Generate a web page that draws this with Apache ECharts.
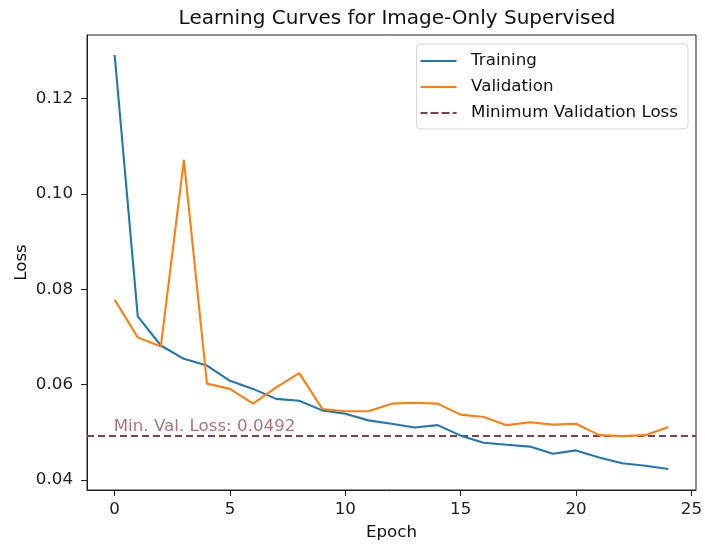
<!DOCTYPE html>
<html>
<head>
<meta charset="utf-8">
<script src="https://cdn.jsdelivr.net/npm/echarts@6/dist/echarts.min.js"></script>
<style>
  html, body { margin: 0; padding: 0; background: #fff; }
  #chart { width: 705px; height: 547px; }
</style>
</head>
<body>
<div id="chart"></div>
<script>
// Per-epoch losses
const epochs = Array.from({ length: 25 }, (_, i) => i);
const trainingLoss = [
  0.1291, 0.0743, 0.0682, 0.0654, 0.0640, 0.0608, 0.0591, 0.0570, 0.0566, 0.0546,
  0.0539, 0.0525, 0.0518, 0.0510, 0.0515, 0.0493, 0.0478, 0.0474, 0.0470, 0.0455,
  0.0462, 0.0447, 0.0435, 0.0430, 0.0423
];
const validationLoss = [
  0.0778, 0.0699, 0.0680, 0.1071, 0.0602, 0.0591, 0.0560, 0.0594, 0.0624, 0.0549,
  0.0544, 0.0544, 0.0560, 0.0562, 0.0560, 0.0537, 0.0532, 0.0515, 0.0521, 0.0516,
  0.0518, 0.0494, 0.0492, 0.0494, 0.0511
];
const xTicks = [0, 5, 10, 15, 20, 25];
const yTicks = [0.04, 0.06, 0.08, 0.10, 0.12];

const minVal = Math.min(...validationLoss);
const xMin = -1.2, xMax = 25.2;
const yMin = 0.0379, yMax = 0.1333;

const FONT = 'DejaVu Sans';
const FS = 16.7;
const MIN_COLOR = '#8e3a48';

// Legend glyphs: solid bar and dashed bar
const solidIcon = 'path://M0,0h36v2h-36z';
const dashedIcon = 'path://M0,0h7v2h-7z M10,0h8v2h-8z M21,0h8v2h-8z M32,0h4v2h-4z';

const chart = echarts.init(document.getElementById('chart'), null, { renderer: 'canvas' });

chart.setOption({
  animation: false,
  backgroundColor: '#ffffff',
  textStyle: { fontFamily: FONT },
  title: {
    text: 'Learning Curves for Image-Only Supervised',
    left: 392, top: 4, textAlign: 'center',
    textStyle: { fontFamily: FONT, fontSize: 20, fontWeight: 'normal', color: '#111' }
  },
  grid: {
    left: 87, right: 8, top: 35, bottom: 57,
    show: true, borderColor: '#222', borderWidth: 1, backgroundColor: 'transparent'
  },
  legend: {
    right: 17, top: 44,
    orient: 'vertical',
    itemWidth: 37, itemHeight: 2, itemGap: 6,
    padding: [7, 10, 6, 4],
    borderColor: '#d6d6d6', borderWidth: 1, borderRadius: 4,
    backgroundColor: 'rgba(255,255,255,0.85)',
    textStyle: { fontFamily: FONT, fontSize: FS, color: '#111', padding: [0, 0, 0, 9], lineHeight: 20 },
    data: [
      { name: 'Training', icon: solidIcon },
      { name: 'Validation', icon: solidIcon },
      { name: 'Minimum Validation Loss', icon: dashedIcon }
    ]
  },
  xAxis: {
    type: 'value', min: xMin, max: xMax,
    name: 'Epoch', nameLocation: 'middle', nameGap: 34,
    nameTextStyle: { fontFamily: FONT, fontSize: FS, color: '#111' },
    axisLine: { show: true, onZero: false, lineStyle: { color: '#222', width: 1 } },
    axisTick: { show: true, length: 6, inside: false, customValues: xTicks, lineStyle: { color: '#222' } },
    axisLabel: { customValues: xTicks, fontFamily: FONT, fontSize: FS, color: '#222', margin: 11 },
    splitLine: { show: false }
  },
  yAxis: {
    type: 'value', min: yMin, max: yMax,
    name: 'Loss', nameLocation: 'middle', nameGap: 57, nameRotate: 90,
    nameMoveOverlap: false,
    nameTextStyle: { fontFamily: FONT, fontSize: FS, color: '#111' },
    axisLine: { show: true, onZero: false, lineStyle: { color: '#222', width: 1 } },
    axisTick: { show: true, length: 6, inside: false, customValues: yTicks, lineStyle: { color: '#222' } },
    axisLabel: {
      customValues: yTicks, fontFamily: FONT, fontSize: FS, color: '#222', margin: 14,
      formatter: v => v.toFixed(2)
    },
    splitLine: { show: false }
  },
  series: [
    {
      name: 'Training', type: 'line',
      data: epochs.map((e, i) => [e, trainingLoss[i]]),
      showSymbol: false, symbol: 'none',
      lineStyle: { color: '#1f77b4', width: 2.1 },
      itemStyle: { color: '#1f77b4' },
      z: 3
    },
    {
      name: 'Validation', type: 'line',
      data: epochs.map((e, i) => [e, validationLoss[i]]),
      showSymbol: false, symbol: 'none',
      lineStyle: { color: '#ff7f0e', width: 2.1 },
      itemStyle: { color: '#ff7f0e' },
      z: 4
    },
    {
      name: 'Minimum Validation Loss', type: 'line',
      data: [[xMin, minVal], [xMax, minVal]],
      showSymbol: false, symbol: 'none',
      lineStyle: { color: MIN_COLOR, width: 2, type: [7, 4] },
      itemStyle: { color: MIN_COLOR },
      z: 2
    },
    {
      name: 'minLabel', type: 'scatter',
      data: [[0, minVal]],
      symbolSize: 0,
      silent: true,
      label: {
        show: true, position: 'top', align: 'left', distance: 1,
        offset: [-1, 0],
        formatter: () => 'Min. Val. Loss: ' + minVal.toFixed(4),
        fontFamily: FONT, fontSize: FS, color: '#9b4f5b'
      },
      z: 5
    }
  ]
});
</script>
</body>
</html>
